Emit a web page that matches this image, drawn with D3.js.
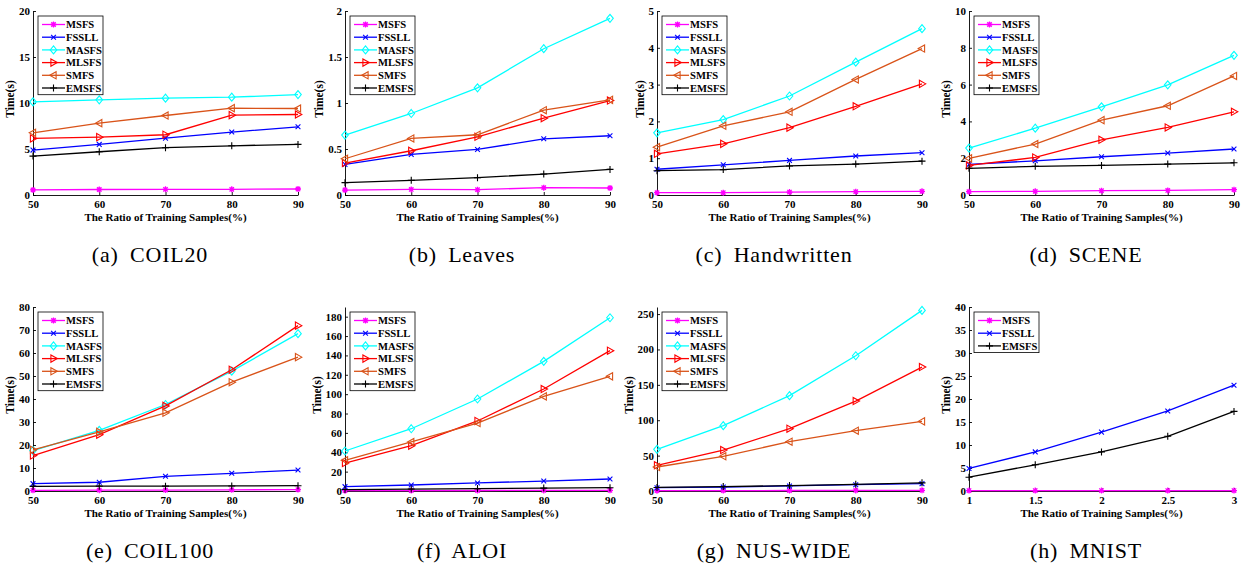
<!DOCTYPE html>
<html>
<head>
<meta charset="utf-8">
<script src="https://cdn.jsdelivr.net/npm/d3@7"></script>
<style>
  html, body { margin: 0; padding: 0; background: #fff; }
  svg { display: block; }
  text { font-family: "Liberation Serif", "Times New Roman", serif; }
</style>
</head>
<body>
<script>
// ---- data -------------------------------------------------------------
const ratios = [50, 60, 70, 80, 90];
const mnistRatios = [1, 1.5, 2, 2.5, 3];

const allMethods = ["MSFS", "FSSLL", "MASFS", "MLSFS", "SMFS", "EMSFS"];
const mnistMethods = ["MSFS", "FSSLL", "EMSFS"];

// running time in seconds, one row per method (order of allMethods)
const coil20 = [
  [0.55, 0.60, 0.62, 0.62, 0.65],
  [4.88, 5.50, 6.18, 6.84, 7.41],
  [10.13, 10.34, 10.52, 10.63, 10.92],
  [6.15, 6.29, 6.55, 8.68, 8.75],
  [6.76, 7.81, 8.64, 9.44, 9.40],
  [4.23, 4.70, 5.14, 5.35, 5.50]
];
const leaves = [
  [0.054, 0.061, 0.058, 0.080, 0.076],
  [0.333, 0.441, 0.495, 0.611, 0.644],
  [0.651, 0.886, 1.165, 1.590, 1.920],
  [0.347, 0.481, 0.633, 0.835, 1.027],
  [0.394, 0.615, 0.655, 0.922, 1.034],
  [0.134, 0.159, 0.188, 0.228, 0.278]
];
const handwritten = [
  [0.063, 0.063, 0.080, 0.090, 0.100],
  [0.70, 0.82, 0.94, 1.06, 1.15],
  [1.69, 2.05, 2.69, 3.61, 4.52],
  [1.12, 1.39, 1.83, 2.41, 3.02],
  [1.30, 1.88, 2.26, 3.14, 3.98],
  [0.66, 0.69, 0.79, 0.84, 0.92]
];
const scene = [
  [0.18, 0.20, 0.235, 0.25, 0.29],
  [1.66, 1.86, 2.08, 2.28, 2.50],
  [2.55, 3.63, 4.79, 5.99, 7.59],
  [1.61, 2.04, 3.00, 3.67, 4.52],
  [1.99, 2.77, 4.07, 4.85, 6.47],
  [1.45, 1.56, 1.61, 1.68, 1.75]
];
const coil100 = [
  [0.3, 0.35, 0.4, 0.5, 0.6],
  [3.2, 3.8, 6.4, 7.7, 9.1],
  [17.6, 26.4, 37.6, 52.1, 68.4],
  [15.4, 24.5, 37.0, 52.7, 71.9],
  [17.9, 25.7, 34.0, 47.3, 58.2],
  [2.0, 2.1, 2.1, 2.2, 2.3]
];
const aloi = [
  [0.3, 0.4, 0.5, 0.6, 0.7],
  [4.5, 6.2, 8.3, 10.3, 12.4],
  [41.3, 64.3, 95.0, 133.9, 178.9],
  [28.9, 46.8, 72.3, 105.3, 144.9],
  [31.7, 50.6, 70.2, 97.7, 118.4],
  [1.5, 2.0, 2.5, 3.0, 3.4]
];
const nusWide = [
  [0.5, 0.6, 0.7, 0.8, 0.9],
  [4.7, 5.6, 7.1, 8.9, 10.4],
  [58.9, 92.3, 134.7, 191.1, 255.2],
  [36.3, 57.9, 88.0, 127.1, 175.1],
  [33.9, 49.0, 69.7, 85.2, 98.4],
  [5.0, 6.2, 7.6, 9.5, 11.5]
];
const mnist = [
  [0.1, 0.1, 0.1, 0.1, 0.1],
  [4.9, 8.5, 12.8, 17.4, 23.0],
  [3.0, 5.7, 8.5, 11.9, 17.3]
];

// y tick values per dataset
const coil20Ticks = [0, 5, 10, 15, 20];
const leavesTicks = [0, 0.5, 1, 1.5, 2];
const handwrittenTicks = [0, 1, 2, 3, 4, 5];
const sceneTicks = [0, 2, 4, 6, 8, 10];
const coil100Ticks = [0, 10, 20, 30, 40, 50, 60, 70, 80];
const aloiTicks = [0, 20, 40, 60, 80, 100, 120, 140, 160, 180];
const nusWideTicks = [0, 50, 100, 150, 200, 250];
const mnistTicks = [0, 5, 10, 15, 20, 25, 30, 35, 40];

const captionLetters = ["(a)", "(b)", "(c)", "(d)", "(e)", "(f)", "(g)", "(h)"];
const datasetNames = ["COIL20", "Leaves", "Handwritten", "SCENE", "COIL100", "ALOI", "NUS-WIDE", "MNIST"];
const xTitle = "The Ratio of Training Samples(%)";
const yTitle = "Time(s)";

// ---- styling ------------------------------------------------------------
const methodColor = {
  MSFS: "#ff00ff", FSSLL: "#0000ff", MASFS: "#00ffff",
  MLSFS: "#ff0000", SMFS: "#d95319", EMSFS: "#000000"
};
const methodMarker = {
  MSFS: "star", FSSLL: "cross", MASFS: "diamond",
  MLSFS: "triRight", SMFS: "triLeft", EMSFS: "plus"
};

const panels = [
  { x: ratios, xTicks: ratios, y: coil20, yTicks: coil20Ticks, yMax: 20, methods: allMethods },
  { x: ratios, xTicks: ratios, y: leaves, yTicks: leavesTicks, yMax: 2, methods: allMethods },
  { x: ratios, xTicks: ratios, y: handwritten, yTicks: handwrittenTicks, yMax: 5, methods: allMethods },
  { x: ratios, xTicks: ratios, y: scene, yTicks: sceneTicks, yMax: 10, methods: allMethods },
  { x: ratios, xTicks: ratios, y: coil100, yTicks: coil100Ticks, yMax: 80, methods: allMethods, smfsMarker: "triRight" },
  { x: ratios, xTicks: ratios, y: aloi, yTicks: aloiTicks, yMax: 190, methods: allMethods },
  { x: ratios, xTicks: ratios, y: nusWide, yTicks: nusWideTicks, yMax: 260, methods: allMethods },
  { x: mnistRatios, xTicks: mnistRatios, y: mnist, yTicks: mnistTicks, yMax: 40, methods: mnistMethods }
];

const W = 1249, H = 563;
const colW = 312;
const rowH = 296;
const plotLeft = 33, plotW = 265;
const plotTop = 11, plotH = 184;

const svg = d3.select("body").append("svg")
  .attr("width", W).attr("height", H)
  .attr("viewBox", `0 0 ${W} ${H}`);

function markerPath(type) {
  switch (type) {
    case "star":
      return "M-3,0L3,0M0,-3L0,3M-2.2,-2.2L2.2,2.2M-2.2,2.2L2.2,-2.2";
    case "cross":
      return "M-2.4,-2.4L2.4,2.4M-2.4,2.4L2.4,-2.4";
    case "diamond":
      return "M0,-4L3.3,0L0,4L-3.3,0Z";
    case "triRight":
      return "M3.8,0L-2.6,-3.6L-2.6,3.6Z";
    case "triLeft":
      return "M-3.8,0L2.6,-3.6L2.6,3.6Z";
    case "plus":
      return "M-3.5,0L3.5,0M0,-3.5L0,3.5";
  }
}

function drawMarker(g, type, cx, cy, color) {
  g.append("path")
    .attr("transform", `translate(${cx},${cy})`)
    .attr("d", markerPath(type))
    .attr("fill", "none")
    .attr("stroke", color)
    .attr("stroke-width", type === "star" ? 1.3 : 1.1);
  if (type === "star") {
    g.append("circle").attr("cx", cx).attr("cy", cy).attr("r", 1.9).attr("fill", color);
  }
}

panels.forEach((p, i) => {
  const row = Math.floor(i / 4), col = i % 4;
  const ox = col * colW, oy = row * rowH;
  const g = svg.append("g").attr("transform", `translate(${ox},${oy})`);

  const x = d3.scaleLinear()
    .domain([p.x[0], p.x[p.x.length - 1]])
    .range([plotLeft, plotLeft + plotW]);
  const y = d3.scaleLinear()
    .domain([0, p.yMax])
    .range([plotTop + plotH, plotTop]);

  // axes (left and bottom only, ticks pointing inward)
  const yAxis = g.append("g")
    .attr("transform", `translate(${plotLeft},0)`)
    .call(d3.axisLeft(y).tickValues(p.yTicks).tickSizeInner(-3).tickSizeOuter(0).tickPadding(3)
      .tickFormat(d3.format("~g")));
  const xAxis = g.append("g")
    .attr("transform", `translate(0,${plotTop + plotH})`)
    .call(d3.axisBottom(x).tickValues(p.xTicks).tickSizeInner(-3).tickSizeOuter(0).tickPadding(5)
      .tickFormat(d3.format("~g")));
  [yAxis, xAxis].forEach(a => {
    a.selectAll("path.domain").attr("stroke", "#000").attr("stroke-width", 0.9);
    a.selectAll(".tick line").attr("stroke", "#000").attr("stroke-width", 0.9);
    a.selectAll(".tick text")
      .attr("fill", "#000")
      .style("font-family", '"Liberation Serif", "Times New Roman", serif')
      .style("font-weight", "bold")
      .style("font-size", "11px");
  });

  // axis titles
  const yb = yAxis.node().getBBox();
  g.append("text")
    .attr("transform", `translate(${plotLeft + yb.x - 5},${plotTop + plotH / 2 - 4}) rotate(-90)`)
    .attr("text-anchor", "middle")
    .style("font-weight", "bold").style("font-size", "11.5px")
    .text(yTitle);
  g.append("text")
    .attr("x", plotLeft + plotW / 2)
    .attr("y", plotTop + plotH + 26)
    .attr("text-anchor", "middle")
    .style("font-weight", "bold").style("font-size", "11px")
    .text(xTitle);

  // series
  const line = d3.line().x(d => x(d[0])).y(d => y(d[1]));
  p.methods.forEach((m, k) => {
    const color = methodColor[m];
    const mk = (m === "SMFS" && p.smfsMarker) ? p.smfsMarker : methodMarker[m];
    const pts = p.x.map((xv, j) => [xv, p.y[k][j]]);
    g.append("path")
      .attr("d", line(pts))
      .attr("fill", "none")
      .attr("stroke", color)
      .attr("stroke-width", 1.3);
    pts.forEach(d => drawMarker(g, mk, x(d[0]), y(d[1]), color));
  });

  // legend
  const rowGap = 12.7;
  const lx = plotLeft + 5, ly = plotTop + 5;
  const lg = g.append("g");
  lg.append("rect")
    .attr("x", lx).attr("y", ly)
    .attr("width", 65).attr("height", p.methods.length * rowGap + 2.5)
    .attr("fill", "#fff").attr("stroke", "#000").attr("stroke-width", 0.8);
  p.methods.forEach((m, k) => {
    const cy = ly + 8.5 + k * rowGap;
    const color = methodColor[m];
    const mk = (m === "SMFS" && p.smfsMarker) ? p.smfsMarker : methodMarker[m];
    lg.append("line")
      .attr("x1", lx + 4).attr("x2", lx + 27)
      .attr("y1", cy).attr("y2", cy)
      .attr("stroke", color).attr("stroke-width", 1.3);
    drawMarker(lg, mk, lx + 15.5, cy, color);
    lg.append("text")
      .attr("x", lx + 28).attr("y", cy + 3.8)
      .style("font-weight", "bold").style("font-size", "10.6px")
      .text(m);
  });

  // sub-figure caption
  const cap = g.append("text")
    .attr("x", 150)
    .attr("y", plotTop + plotH + 67)
    .attr("text-anchor", "middle")
    .style("font-size", "22px")
    .style("letter-spacing", "0.8px");
  cap.append("tspan").text(captionLetters[i]);
  cap.append("tspan").attr("dx", 5).text(" " + datasetNames[i]);
});
</script>
</body>
</html>
